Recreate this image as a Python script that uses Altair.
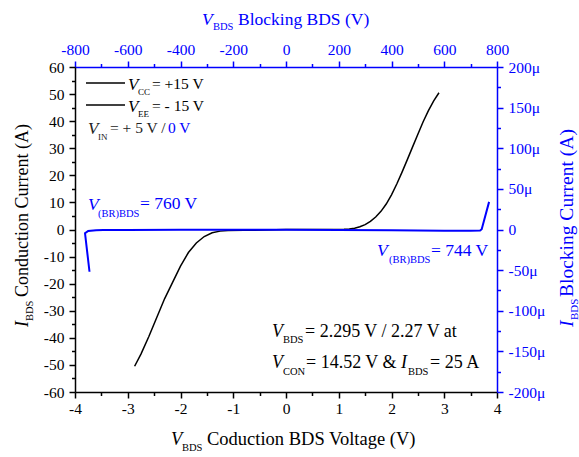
import altair as alt
import pandas as pd

FONT = "Liberation Serif"
BLUE = "#0000ff"

# Conduction curve (bottom / left axes): V_BDS (V) vs I_BDS (A)
cond_v = [-2.87, -2.75, -2.6, -2.45, -2.3, -2.15, -2.0, -1.85, -1.7, -1.55, -1.4, -1.25,
          -1.1, -0.8, -0.4, 0.0, 0.4, 0.8, 1.1, 1.2, 1.3, 1.4, 1.5, 1.6, 1.7, 1.8, 1.9,
          2.0, 2.1, 2.2, 2.3, 2.4, 2.5, 2.6, 2.7, 2.8, 2.9]
cond_i = [-50.5, -46.0, -39.5, -32.5, -25.5, -19.5, -13.5, -8.5, -5.0, -2.6, -1.2, -0.6,
          -0.4, -0.3, -0.2, 0.0, 0.0, 0.0, 0.1, 0.2, 0.5, 1.0, 1.8, 3.0, 4.6, 6.7, 9.4,
          12.8, 16.8, 21.2, 25.8, 30.5, 35.2, 39.8, 43.9, 47.5, 50.5]

# Blocking curve (top / right axes): V_BDS (V) vs I_BDS (uA)
block_v = [-745, -762, -750, -720, -693, -600, -400, -200, 0, 200, 400, 500, 600, 700, 736, 742, 770]
block_i = [-52.0, -4.7, -1.8, -0.9, -0.6, -0.5, -0.4, -0.3, -0.3, -0.5, -0.9, -1.3, -1.5, -1.5, -1.2, 0.3, 34.0]

bottom_ticks = [-4, -3, -2, -1, 0, 1, 2, 3, 4]
bottom_minor = [-3.5, -2.5, -1.5, -0.5, 0.5, 1.5, 2.5, 3.5]
left_ticks = [-60, -50, -40, -30, -20, -10, 0, 10, 20, 30, 40, 50, 60]
left_minor = [-55, -45, -35, -25, -15, -5, 5, 15, 25, 35, 45, 55]
top_ticks = [-800, -600, -400, -200, 0, 200, 400, 600, 800]
top_minor = [-700, -500, -300, -100, 100, 300, 500, 700]
right_ticks = [-200, -150, -100, -50, 0, 50, 100, 150, 200]
right_minor = [-175, -125, -75, -25, 25, 75, 125, 175]

cond = pd.DataFrame({"v": cond_v, "i": cond_i, "k": list(range(len(cond_v)))})
block = pd.DataFrame({"v": block_v, "i": block_i, "k": list(range(len(block_v)))})

OX, OY = 75, 67
ONE = alt.Data(values=[{"a": 1}])


def axis_major(orient, values, color, expr, pad):
    return alt.Axis(orient=orient, values=values, title=None, grid=False,
                    domainColor=color, domainWidth=1.5, tickColor=color, tickWidth=1.5,
                    tickSize=6, labelFont=FONT, labelFontSize=15.5, labelColor=color,
                    labelPadding=pad, labelExpr=expr, labelOverlap=False, labelFlush=False)


def axis_minor(orient, values, color):
    return alt.Axis(orient=orient, values=values, title=None, grid=False, domain=False,
                    labels=False, tickColor=color, tickWidth=1.5, tickSize=3.5)


sx_b = alt.Scale(domain=[-4, 4], nice=False, zero=False)
sy_l = alt.Scale(domain=[-60, 60], nice=False, zero=False)
sx_t = alt.Scale(domain=[-800, 800], nice=False, zero=False)
sy_r = alt.Scale(domain=[-200, 200], nice=False, zero=False)

num_expr = "'' + datum.value"
mu_expr = "datum.value == 0 ? '0' : datum.value + '\u03bc'"

black_line = alt.Chart(cond).mark_line(color="black", strokeWidth=1.5).encode(
    x=alt.X("v:Q", scale=sx_b, axis=axis_major("bottom", bottom_ticks, "black", num_expr, 3)),
    y=alt.Y("i:Q", scale=sy_l, axis=axis_major("left", left_ticks, "black", num_expr, 5)),
    order="k:Q",
)
black_minor = alt.Chart(cond).mark_point(opacity=0).encode(
    x=alt.X("v:Q", scale=sx_b, axis=axis_minor("bottom", bottom_minor, "black")),
    y=alt.Y("i:Q", scale=sy_l, axis=axis_minor("left", left_minor, "black")),
)
blue_line = alt.Chart(block).mark_line(color=BLUE, strokeWidth=2).encode(
    x=alt.X("v:Q", scale=sx_t, axis=axis_major("top", top_ticks, BLUE, num_expr, 4)),
    y=alt.Y("i:Q", scale=sy_r, axis=axis_major("right", right_ticks, BLUE, mu_expr, 5)),
    order="k:Q",
)
blue_minor = alt.Chart(block).mark_point(opacity=0).encode(
    x=alt.X("v:Q", scale=sx_t, axis=axis_minor("top", top_minor, BLUE)),
    y=alt.Y("i:Q", scale=sy_r, axis=axis_minor("right", right_minor, BLUE)),
)


def txt(s, x, y, size=18, color="black", italic=False, angle=0):
    kw = dict(text=s, font=FONT, fontSize=size, color=color, align="left", baseline="alphabetic")
    if italic:
        kw["fontStyle"] = "italic"
    if angle:
        kw["angle"] = angle
    return alt.Chart(ONE).mark_text(**kw).encode(x=alt.value(x - OX), y=alt.value(y - OY))


def hline(x1, x2, y, color):
    return alt.Chart(ONE).mark_rule(color=color, strokeWidth=1.5).encode(
        x=alt.value(x1 - OX), x2=alt.value(x2 - OX), y=alt.value(y - OY))


texts = [
    # top axis title
    txt("V", 202, 25, 17.5, BLUE, True),
    txt("BDS", 213, 30, 10.5, BLUE),
    txt("Blocking BDS (V)", 238, 25, 17.5, BLUE),
    # bottom axis title
    txt("V", 171, 445, 18.5, "black", True),
    txt("BDS", 182, 451, 10.5, "black"),
    txt("Coduction BDS Voltage (V)", 207, 445, 18.5, "black"),
    # left axis title
    txt("I", 28, 327, 18, "black", True, 270),
    txt("BDS", 33, 321, 10.5, "black", False, 270),
    txt("Conduction Current (A)", 28, 297, 18, "black", False, 270),
    # right axis title
    txt("I", 573, 327, 19.5, BLUE, True, 270),
    txt("BDS", 578, 320, 11, BLUE, False, 270),
    txt("Blocking Current (A)", 573, 297, 19.5, BLUE, False, 270),
    # legend
    hline(86, 125, 83, "black"),
    txt("V", 128, 90, 17, "black", True),
    txt("CC", 138, 95, 9, "black"),
    txt("= +15 V", 152, 89, 15.5, "black"),
    hline(86, 125, 105, "black"),
    txt("V", 128, 112, 17, "black", True),
    txt("EE", 138, 117, 9, "black"),
    txt("= - 15 V", 152, 111, 15.5, "black"),
    txt("V", 88, 134, 17, "#222222", True),
    txt("IN", 98, 140, 9, "#222222"),
    txt("= + 5 V /", 110, 133, 15.5, "#222222"),
    txt("0 V", 168, 133, 15.5, BLUE),
    # breakdown annotations
    txt("V", 88, 210, 17.5, BLUE, True),
    txt("(BR)BDS", 98, 217, 10.5, BLUE),
    txt("= 760 V", 140, 209, 17.5, BLUE),
    txt("V", 377, 256, 17.5, BLUE, True),
    txt("(BR)BDS", 389, 263, 10.5, BLUE),
    txt("= 744 V", 431, 256, 17.5, BLUE),
    # lower right annotation
    txt("V", 272, 337, 18, "black", True),
    txt("BDS", 283, 343, 10.5, "black"),
    txt("= 2.295 V / 2.27 V at", 305, 337, 18, "black"),
    txt("V", 272, 368, 18, "black", True),
    txt("CON", 283, 375, 10.5, "black"),
    txt("= 14.52 V &", 306, 368, 18, "black"),
    txt("I", 401, 368, 18, "black", True),
    txt("BDS", 408, 375, 10.5, "black"),
    txt("= 25 A", 430, 368, 18, "black"),
]

chart = alt.layer(black_minor, blue_minor, black_line, blue_line, *texts).resolve_scale(
    x="independent", y="independent"
).properties(
    width=422, height=325,
    padding={"left": 75, "top": 67, "right": 82, "bottom": 65},
    autosize=alt.AutoSizeParams(type="none"),
    background="white",
).configure_view(stroke=None).configure_axis(labelFont=FONT)

chart.save("out.html", embed_options={"renderer": "svg", "actions": False})
